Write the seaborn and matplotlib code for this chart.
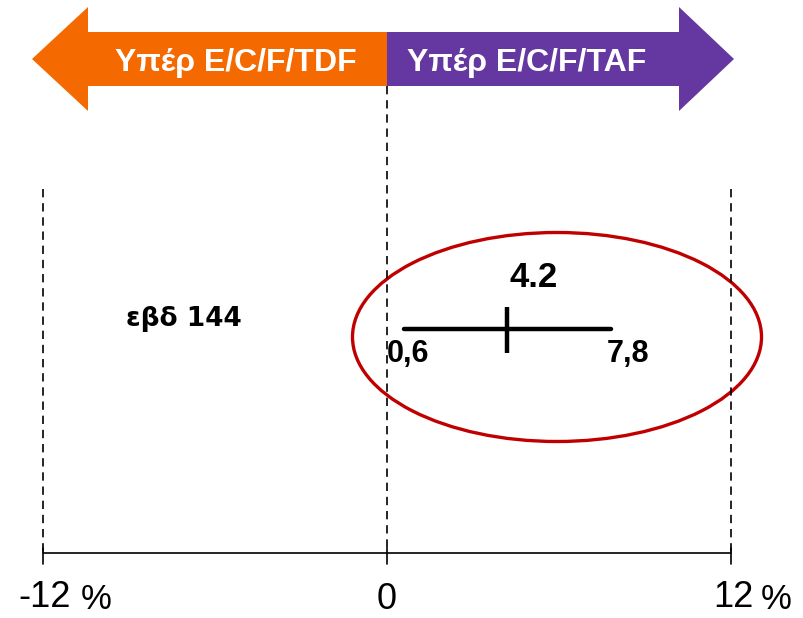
import matplotlib
matplotlib.use("Agg")
import matplotlib.pyplot as plt
import seaborn as sns
import pandas as pd
from matplotlib.patches import Polygon, Ellipse

# ---- data ----
study = ["εβδ 144"]
estimate = [4.2]
ci_low = [0.6]
ci_high = [7.8]
est_label = ["4.2"]
low_label = ["0,6"]
high_label = ["7,8"]
axis_ticks = [-12, 0, 12]
axis_tick_labels = ["-12", "0", "12"]
axis_tick_units = ["%", "", "%"]
left_arrow_label = "Υπέρ E/C/F/TDF"
right_arrow_label = "Υπέρ E/C/F/TAF"

ORANGE = "#F56A00"
PURPLE = "#6438A0"
RED = "#C00000"
INK = "black"

sns.set_theme(style="white")
plt.rcParams['font.family'] = ['Liberation Sans', 'DejaVu Sans']
plt.rcParams['text.color'] = INK

W, H = 804, 618
fig = plt.figure(figsize=(W / 100, H / 100), dpi=100)
ax = fig.add_axes([0, 0, 1, 1])
ax.set_axis_off()
px_per_unit = (731 - 43) / 24
x0 = -12 - 43 / px_per_unit


def X(px):
    return x0 + px / px_per_unit


zero = 0
# ---- arrows ----
left_pts = [(X(32), 59), (X(88), 7), (X(88), 32), (zero, 32), (zero, 86), (X(88), 86), (X(88), 111)]
right_pts = [(zero, 32), (X(679), 32), (X(679), 7), (X(734), 59), (X(679), 111), (X(679), 86), (zero, 86)]
ax.add_patch(Polygon(left_pts, closed=True, facecolor=ORANGE, edgecolor="none"))
ax.add_patch(Polygon(right_pts, closed=True, facecolor=PURPLE, edgecolor="none"))
ax.text(X(236), 71, left_arrow_label, color="white", fontsize=23, fontweight="bold",
        ha="center", va="baseline")
ax.text(X(527), 71, right_arrow_label, color="white", fontsize=23, fontweight="bold",
        ha="center", va="baseline")

# ---- dashed reference lines ----
dash = (0, (5, 3.5))
ax.plot([axis_ticks[0]] * 2, [189, 553], color=INK, lw=1.2, ls=dash)
ax.plot([axis_ticks[2]] * 2, [189, 553], color=INK, lw=1.2, ls=dash)
ax.plot([0, 0], [86, 553], color=INK, lw=1.2, ls=dash)

# ---- axis ----
ax.plot([axis_ticks[0], axis_ticks[-1]], [553, 553], color=INK, lw=1.2)
unit_px = {-12: 96, 12: 776}
for t, lab, unit in zip(axis_ticks, axis_tick_labels, axis_tick_units):
    ax.plot([t, t], [548, 564], color=INK, lw=1.2)
    if unit:
        ax.text(t + 2 / px_per_unit, 607, lab, fontsize=26, ha="center", va="baseline", color=INK)
        ax.text(X(unit_px[t]), 609, unit, fontsize=25, ha="center", va="baseline", color=INK)
    else:
        ax.text(t, 609, lab, fontsize=26, ha="center", va="baseline", color=INK)

# ---- interval ----
row_y = 329
df = pd.DataFrame({"x": [ci_low[0], ci_high[0]], "y": [row_y, row_y]})
sns.lineplot(data=df, x="x", y="y", color=INK, lw=3.2, ax=ax,
             solid_capstyle="round", legend=False)
ax.plot(estimate, [row_y + 1], marker="|", markersize=33, mew=3.2, color=INK, ls="none")
ax.set_axis_off()
ax.set_xlim(x0, x0 + W / px_per_unit)
ax.set_ylim(H, 0)

ax.text(estimate[0] + 0.9, 287, est_label[0], fontsize=25, fontweight="bold",
        ha="center", va="baseline", color=INK)
ax.text(ci_low[0] + 0.15, 362, low_label[0], fontsize=22, fontweight="bold",
        ha="center", va="baseline", color=INK)
ax.text(ci_high[0] + 0.6, 362, high_label[0], fontsize=22, fontweight="bold",
        ha="center", va="baseline", color=INK)
ax.text(X(184), 326, study[0], fontsize=19, fontweight="bold", ha="center",
        va="baseline", family=["DejaVu Sans"], color=INK)

# ---- highlight ellipse ----
ax.add_patch(Ellipse((X(557), 337), 409 / px_per_unit, 209, facecolor="none",
                     edgecolor=RED, lw=2.4))

fig.savefig("out.png", dpi=100)
